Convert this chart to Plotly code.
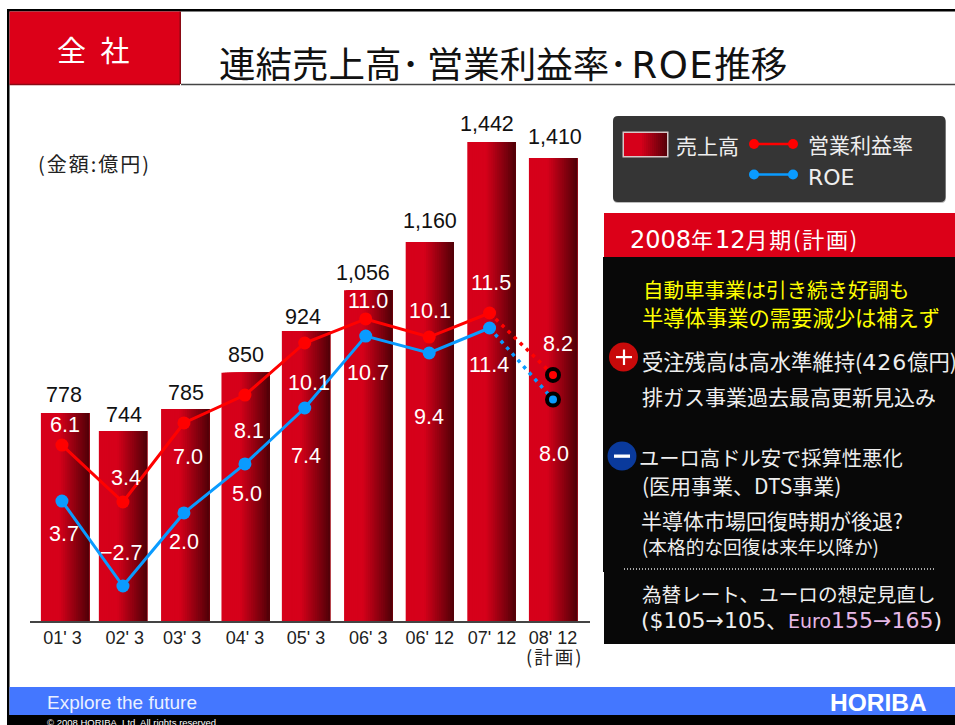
import plotly.graph_objects as go

W, H = 955, 725

# ---- data ----
periods = ["01' 3", "02' 3", "03' 3", "04' 3", "05' 3", "06' 3", "06' 12", "07' 12", "08' 12"]
sales_labels = ["778", "744", "785", "850", "924", "1,056", "1,160", "1,442", "1,410"]
margin_labels = ["6.1", "3.4", "7.0", "8.1", "10.1", "11.0", "10.1", "11.5", "8.2"]
roe_labels = ["3.7", "−2.7", "2.0", "5.0", "7.4", "10.7", "9.4", "11.4", "8.0"]
# The source chart is hand-drawn: heights are not proportional to the printed figures,
# so these are the levels.
sales_drawn = [626, 572, 638, 747, 873, 996, 1141, 1442, 1394]
sales_foot = [0, 0, 0, 0, 0, 0, -6, -3, 0]
margin_drawn = [4.63, 1.67, 5.78, 7.23, 9.94, 11.19, 10.25, 11.5, 8.28]
roe_drawn = [1.72, -2.70, 1.10, 3.65, 6.56, 10.30, 9.42, 10.72, 7.0]
bar_slots = [0, 0.95, 1.97, 2.96, 3.95, 4.97, 5.98, 6.99, 8.0]
point_slots = [-0.05, 0.95, 1.95, 2.95, 3.93, 4.93, 5.97, 6.96, 8.0]
tick_slots = [-0.04, 0.98, 1.92, 2.95, 3.95, 4.97, 5.98, 7.0, 8.0]

RED, BLUE = "#ff0000", "#0a9bff"
CRIM = "#dc0018"
FONT_L = "Liberation Sans"
FONT_J = "Noto Sans CJK JP"
FONT_W = "DejaVu Sans, Noto Sans CJK JP"


def px(x):
    return x / W


def py(y):
    return 1 - y / H


def grad(t):
    c0, c1 = (214, 0, 26), (84, 0, 8)
    u = max(0.0, (t - 0.38) / 0.62)
    return "rgb(%d,%d,%d)" % tuple(round(a + (b - a) * u) for a, b in zip(c0, c1))


def rect(x0, y0, x1, y1, fill, line=None, lw=0):
    return dict(type="rect", xref="paper", yref="paper", x0=px(x0), x1=px(x1), y0=py(y0), y1=py(y1),
                fillcolor=fill, line=dict(color=line or fill, width=lw), layer="below")


def circle(cx, cy, r, fill):
    return dict(type="circle", xref="paper", yref="paper", x0=px(cx - r), x1=px(cx + r),
                y0=py(cy + r), y1=py(cy - r), fillcolor=fill, line=dict(width=0), layer="below")


def hline(x0, x1, y, color, w, dash="solid"):
    return dict(type="line", xref="paper", yref="paper", x0=px(x0), x1=px(x1), y0=py(y), y1=py(y),
                line=dict(color=color, width=w, dash=dash), layer="below")


def rounded(x0, y0, x1, y1, r, fill):
    P = lambda a, b: f"{px(a):.5f},{py(b):.5f}"
    path = (f"M{P(x0 + r, y0)} L{P(x1 - r, y0)} Q{P(x1, y0)} {P(x1, y0 + r)} L{P(x1, y1 - r)} "
            f"Q{P(x1, y1)} {P(x1 - r, y1)} L{P(x0 + r, y1)} Q{P(x0, y1)} {P(x0, y1 - r)} "
            f"L{P(x0, y0 + r)} Q{P(x0, y0)} {P(x0 + r, y0)} Z")
    return dict(type="path", xref="paper", yref="paper", path=path, fillcolor=fill,
                line=dict(width=0), layer="below")


def label(text, x, y, size, color="#ffffff", family=FONT_J, anchor="left"):
    return dict(text=text, xref="paper", yref="paper", x=px(x), y=py(y), xanchor=anchor, yanchor="middle",
                showarrow=False, font=dict(family=family, size=size, color=color),
                borderpad=0, borderwidth=0)


def wide(text, size, spacing=0):
    return f'<span style="font-family:DejaVu Sans;font-size:{size}px;letter-spacing:{spacing}px">{text}</span>'


def spaced(text, spacing):
    return f'<span style="letter-spacing:{spacing}px">{text}</span>'


fig = go.Figure()

# ---- bars: gradient built from overlapping slices ----
BAR_W = 0.79
N = 26
step = BAR_W / N
for i in range(N):
    fig.add_trace(go.Bar(
        x=bar_slots,
        y=[h - f for h, f in zip(sales_drawn, sales_foot)],
        base=sales_foot,
        width=BAR_W - i * step,
        offset=-BAR_W / 2 + i * step,
        marker=dict(color=grad(i / (N - 1)), line=dict(width=0)),
        hoverinfo="skip", showlegend=False,
    ))

# ---- lines ----
for vals, col in ((margin_drawn, RED), (roe_drawn, BLUE)):
    fig.add_trace(go.Scatter(x=point_slots[7:], y=vals[7:], yaxis="y2", mode="lines",
                             line=dict(color=col, width=3.5, dash="3.5px,5px"), hoverinfo="skip", showlegend=False))
    fig.add_trace(go.Scatter(x=point_slots[:8], y=vals[:8], yaxis="y2", mode="lines+markers",
                             line=dict(color=col, width=3), marker=dict(color=col, size=13),
                             hoverinfo="skip", showlegend=False))
    fig.add_trace(go.Scatter(x=point_slots[8:], y=vals[8:], yaxis="y2", mode="markers",
                             marker=dict(color=col, size=12, line=dict(color="#000000", width=4)),
                             hoverinfo="skip", showlegend=False))

# ---- panels ----
shapes = [
    rect(0, 0, W, H, "#ffffff"),
    rect(7, 9, W, 11.5, "#000000"),
    rect(7, 9, 9.5, H, "#000000"),
    rect(9.5, 11.5, 180, 84, CRIM),
    rect(179.5, 11.5, 181, 84, "#8a0a14"),
    hline(9.5, 180, 84.5, "#8a0a14", 1.5),
    hline(181, W, 84.5, "#444444", 1.5),
    rounded(613, 117.5, 946, 203, 5, "#bbbbbb"),
    rounded(613, 116, 945.5, 202, 5, "#353535"),
    rect(622.5, 131.5, 668.5, 157.5, "#d8c8c8"),
]
SW = 22
for i in range(SW):
    shapes.append(rect(624 + i * 2, 133, 667, 156, grad(i / (SW - 1))))
shapes += [
    hline(754, 793, 144, RED, 2.5), circle(754, 144, 5, RED), circle(793, 144, 5, RED),
    hline(754, 793, 174.5, BLUE, 2.5), circle(754, 174.5, 5, BLUE), circle(793, 174.5, 5, BLUE),
    rect(604, 213, W, 257, CRIM),
    rect(603, 257, W, 572, "#080808"),
    rect(604, 572, W, 644, "#080808"),
    hline(624, 934, 569, "#dddddd", 1.5, "1px,2px"),
    circle(623.5, 357, 14.5, "#c80a0a"),
    rect(616, 356, 632, 358.2, "#ffffff"),
    rect(622.9, 349.5, 625.1, 365, "#ffffff"),
    circle(622, 456, 14.5, "#0a3a9c"),
    rect(614, 454.5, 630, 457.8, "#ffffff"),
    rect(9.5, 687, W, 715, "#4477ff"),
    rect(7, 715, W, H, "#000000"),
]

# ---- texts ----
title = f'連結売上高{spaced("･", 7)}営業利益率{spaced("･", 4)}{wide("ROE", 37, 1.5)}推移'
fx = ('($105→105、<span style="color:#e6b8e6"><span style="font-size:19px">Euro</span>'
      '155→165</span>)')
plan = spaced(f'{wide("2008", 24, 0)}年{wide("12", 24, 0)}月期(計画)', 1.8)
ann = [
    label(spaced("全 社", 4), 57, 49, 29),
    label(title, 219, 63, 36.5, "#111111"),
    label(spaced("(金額:億円)", 2), 38, 163, 20, "#222222"),
    label("売上高", 676, 145, 21, "#eeeeee"),
    label("営業利益率", 808, 144, 21, "#eeeeee"),
    label("ROE", 808, 177, 22, "#eeeeee", "DejaVu Sans"),
    label(plan, 630, 238, 22),
    label("自動車事業は引き続き好調も", 643, 289, 20.5, "#ffff00"),
    label("半導体事業の需要減少は補えず", 642, 316, 21.3, "#ffff00"),
    label(f'受注残高は高水準維持({wide("426", 22, 1)}億円)', 642, 360, 21.3, "#eeeeee"),
    label("排ガス事業過去最高更新見込み", 642, 396, 21, "#eeeeee"),
    label("ユーロ高ドル安で採算性悪化", 639, 457, 20.3, "#eeeeee"),
    label("(医用事業、DTS事業)", 642, 485, 21, "#eeeeee"),
    label("半導体市場回復時期が後退?", 641, 520, 21, "#eeeeee"),
    label("(本格的な回復は来年以降か)", 642, 545, 18.7, "#eeeeee"),
    label("為替レート、ユーロの想定見直し", 642, 593, 19.6, "#eeeeee"),
    label(fx, 641, 620, 22, "#eeeeee", FONT_W),
    label(spaced("(計画)", 2), 555, 656, 18.5, "#222222", FONT_J, "center"),
    label("Explore the future", 47, 702, 19, "#eaf0ff", FONT_L),
    label("<b>HORIBA</b>", 830, 702, 24.5, "#ffffff", FONT_L),
    label("© 2008 HORIBA, Ltd. All rights reserved.", 47, 722, 9.5, "#ffffff", FONT_L),
]
sales_label_xy = [(64, 395), (124, 415), (186, 393), (246, 355), (303, 317), (363, 273), (430, 221), (487, 124), (555, 137)]
for t, (x, y) in zip(sales_labels, sales_label_xy):
    ann.append(label(t, x, y, 21.5, "#111111", FONT_L, "center"))
margin_label_xy = [(65, 425), (126, 478), (188, 457), (249, 431), (309, 383), (368, 301), (430, 311), (491, 283), (558, 344)]
roe_label_xy = [(64, 534), (121, 553), (184, 542), (247, 494), (306, 456), (368, 373), (429, 417), (489, 365), (554, 454)]
for t, (x, y) in zip(margin_labels + roe_labels, margin_label_xy + roe_label_xy):
    ann.append(label(t, x, y, 21.5, "#ffffff", FONT_L, "center"))

# ---- axes mapped onto the page ----
X0, X1, Y_BASE, Y_TOP = 30, 590, 621, 100
SLOT = 61
fig.update_layout(
    width=W, height=H, autosize=False, margin=dict(l=0, r=0, t=0, b=0),
    paper_bgcolor="#ffffff", plot_bgcolor="rgba(0,0,0,0)",
    barmode="overlay", showlegend=False, shapes=shapes, annotations=ann,
    xaxis=dict(domain=[px(X0), px(X1)], range=[(X0 - 65) / SLOT, (X1 - 65) / SLOT],
               tickmode="array", tickvals=tick_slots, ticktext=periods,
               tickfont=dict(family=f"{FONT_L}, {FONT_J}", size=18, color="#222222"),
               ticks="", ticklabelstandoff=0, showgrid=False, zeroline=False,
               showline=True, linecolor="#444444", linewidth=1.5),
    yaxis=dict(domain=[py(Y_BASE), py(Y_TOP)], range=[0, (Y_BASE - Y_TOP) / 0.3322],
               visible=False, fixedrange=True),
    yaxis2=dict(domain=[py(Y_BASE), py(Y_TOP)], overlaying="y", side="right",
                range=[11.5 - (Y_BASE - 313) / 19.226, 11.5 + (313 - Y_TOP) / 19.226],
                visible=False, fixedrange=True),
)
fig.write_html("out.html", config=dict(displayModeBar=False),
               post_script="document.body.style.margin='0';document.documentElement.style.overflow='hidden';")
